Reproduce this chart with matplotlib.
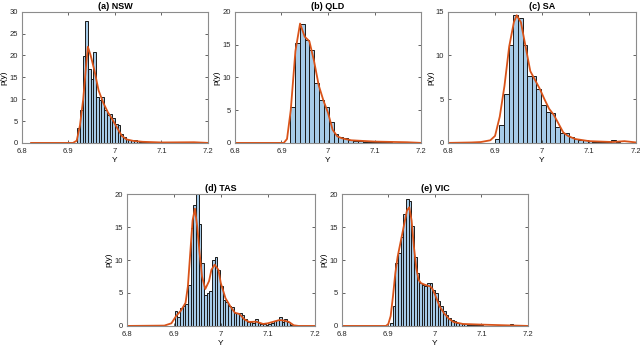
import numpy as np
import matplotlib
matplotlib.use('Agg')
import matplotlib.pyplot as plt

plt.rcParams['font.family'] = ['Liberation Sans', 'DejaVu Sans']

# ---- NSW ----
nsw_start, nsw_width = 6.919, 0.0058
nsw_hist = [3.3, 7.5, 19.8, 28.0, 17.0, 14.7, 20.7, 10.4, 9.8, 10.4, 7.5, 6.3, 6.7,
            5.6, 4.4, 4.0, 2.1, 1.4, 1.0, 0.7, 0.6, 0.7, 0.5, 0.3, 0.2, 0.15, 0.1]
nsw_cx = [6.82, 6.91, 6.918, 6.925, 6.932, 6.938, 6.942, 6.948, 6.956, 6.965, 6.975,
          6.985, 6.995, 7.005, 7.015, 7.025, 7.04, 7.06, 7.1, 7.17, 7.2]
nsw_cy = [0, 0, 0.5, 4.0, 10.0, 17.5, 22.0, 20.0, 16.6, 12.0, 9.2,
          7.0, 5.3, 3.4, 1.6, 0.8, 0.45, 0.25, 0.1, 0.15, 0.0]
nsw_tail = (7.172, 0.3)

# ---- QLD ----
qld_start, qld_width = 6.9185, 0.0104
qld_hist = [5.45, 15.3, 18.1, 15.7, 14.1, 9.2, 6.6, 5.4, 3.2, 1.4, 0.9, 0.7, 0.5,
            0.3, 0.25, 0.2, 0.15, 0.12, 0.1, 0.1, 0.08, 0.05, 0.05, 0.05]
qld_cx = [6.8, 6.905, 6.912, 6.92, 6.93, 6.94, 6.95, 6.96, 6.97, 6.98, 6.99, 7.0,
          7.01, 7.02, 7.03, 7.05, 7.1, 7.17, 7.2]
qld_cy = [0, 0, 0.6, 5.0, 14.0, 18.2, 16.2, 15.5, 12.5, 8.8, 6.5, 4.6,
          2.0, 1.0, 0.7, 0.4, 0.2, 0.1, 0.0]

# ---- SA ----
sa_start, sa_width = 6.899, 0.0099
sa_hist = [0.4, 2.0, 5.6, 11.2, 14.65, 14.3, 11.2, 7.6, 7.6, 6.2, 4.3, 3.5, 3.4,
           1.8, 1.1, 1.1, 0.7, 0.5, 0.35, 0.3, 0.2, 0.15, 0.1, 0.1, 0.15, 0.3, 0.1]
sa_cx = [6.8, 6.85, 6.87, 6.89, 6.9, 6.91, 6.92, 6.93, 6.94, 6.946, 6.955, 6.965,
         6.975, 6.985, 6.995, 7.005, 7.015, 7.025, 7.035, 7.045, 7.055, 7.07, 7.1,
         7.15, 7.175, 7.2]
sa_cy = [0, 0.05, 0.1, 0.3, 0.8, 3.0, 6.5, 11.0, 13.8, 14.6, 13.8, 11.0,
         8.2, 7.2, 6.2, 5.0, 3.9, 3.2, 2.2, 1.2, 0.8, 0.45, 0.2, 0.1, 0.2, 0.05]

# ---- TAS ----
tas_start, tas_width = 6.9016, 0.0057
tas_hist = [2.2, 1.3, 2.7, 3.0, 3.3, 6.2, 14.8, 18.4, 20.0, 15.5, 9.5, 4.7, 5.0,
            5.3, 10.0, 10.5, 8.5, 6.0, 4.0, 3.7, 3.0, 2.8, 2.0, 1.9, 2.0, 1.6, 1.0,
            0.6, 0.6, 0.5, 1.1, 0.5, 0.3, 0.3, 0.2, 0.3, 0.5, 0.7, 0.9, 1.3, 0.6,
            1.0, 0.6, 0.2]
tas_cx = [6.8, 6.88, 6.895, 6.905, 6.915, 6.925, 6.93, 6.935, 6.94, 6.945, 6.95,
          6.955, 6.96, 6.967, 6.975, 6.98, 6.987, 6.995, 7.0, 7.01, 7.02, 7.03,
          7.04, 7.05, 7.06, 7.075, 7.09, 7.1, 7.115, 7.125, 7.135, 7.145, 7.155,
          7.165, 7.2]
tas_cy = [0, 0.05, 0.4, 1.5, 2.3, 3.5, 6.0, 11.0, 16.0, 17.8, 15.0,
          11.0, 7.5, 5.6, 6.8, 8.5, 9.3, 8.5, 6.5, 4.2, 3.0, 2.0,
          1.8, 1.0, 0.6, 0.65, 0.3, 0.4, 0.7, 0.9, 0.8, 0.6, 0.1,
          0.0, 0.0]
tas_tail = (6.811, 0.15)

# ---- VIC ----
vic_start, vic_width = 6.9036, 0.0057
vic_hist = [0.5, 3.0, 9.6, 11.0, 13.5, 17.0, 19.2, 19.0, 15.2, 10.5, 8.0, 6.5, 6.2,
            6.0, 6.5, 6.5, 5.5, 5.0, 3.8, 3.0, 2.2, 1.6, 1.2, 0.9, 0.7, 0.5, 0.4,
            0.3, 0.25, 0.2, 0.2, 0.15, 0.15, 0.1, 0.1]
vic_cx = [6.8, 6.895, 6.9, 6.905, 6.91, 6.915, 6.92, 6.93, 6.94, 6.945, 6.95,
          6.955, 6.96, 6.965, 6.97, 6.98, 6.99, 6.995, 7.0, 7.01, 7.02, 7.03,
          7.04, 7.06, 7.1, 7.15, 7.2]
vic_cy = [0, 0, 0.3, 1.5, 4.5, 8.0, 10.5, 14.0, 17.5, 18.0, 16.0,
          12.0, 8.8, 7.0, 6.5, 6.2, 6.0, 5.6, 4.8, 3.0, 1.9, 1.1,
          0.6, 0.3, 0.2, 0.1, 0.0]
vic_tail = (7.162, 0.3)

panels = [
    ('(a) NSW', nsw_start, nsw_width, nsw_hist, nsw_cx, nsw_cy, nsw_tail, 30,
     [0.034, 0.587, 0.291, 0.379]),
    ('(b) QLD', qld_start, qld_width, qld_hist, qld_cx, qld_cy, None, 20,
     [0.367, 0.587, 0.291, 0.379]),
    ('(c) SA', sa_start, sa_width, sa_hist, sa_cx, sa_cy, None, 15,
     [0.700, 0.587, 0.294, 0.379]),
    ('(d) TAS', tas_start, tas_width, tas_hist, tas_cx, tas_cy, tas_tail, 20,
     [0.198, 0.058, 0.294, 0.381]),
    ('(e) VIC', vic_start, vic_width, vic_hist, vic_cx, vic_cy, vic_tail, 20,
     [0.534, 0.058, 0.291, 0.381]),
]

bar_face = '#a6cbe8'
edge_col = '#1a1a1a'
line_col = '#d95319'
spine_col = '#8c8c8c'

fig = plt.figure(figsize=(6.4, 3.46), dpi=100)
for title, start, width, hist, cx, cy, tail, ymax, pos in panels:
    ax = fig.add_axes(pos)
    edges = start + width * np.arange(len(hist))
    ax.bar(edges, hist, width=width, align='edge', color=bar_face,
           edgecolor=edge_col, linewidth=0.7)
    if tail is not None:
        ax.bar([tail[0]], [tail[1]], width=width, align='edge', color=bar_face,
               edgecolor=edge_col, linewidth=0.7)
    ax.plot(cx, cy, color=line_col, linewidth=1.3)
    ax.set_xlim(6.8, 7.2)
    ax.set_ylim(0, ymax)
    ax.set_xticks([6.8, 6.9, 7.0, 7.1, 7.2])
    ax.set_xticklabels(['6.8', '6.9', '7', '7.1', '7.2'])
    ax.set_yticks(np.arange(0, ymax + 1, 5))
    ax.tick_params(direction='in', top=True, right=True, length=2,
                   width=0.5, labelsize=5.5, colors='#262626')
    ax.tick_params(axis='x', pad=4)
    ax.tick_params(axis='y', pad=3)
    for s in ax.spines.values():
        s.set_color(spine_col)
        s.set_linewidth(0.8)
    ax.set_title(title, fontsize=6.5, fontweight='bold', pad=2)
    ax.set_xlabel('Y', fontsize=6, labelpad=1)
    ax.set_ylabel('p(y)', fontsize=6, labelpad=1)

fig.savefig('out.png', dpi=100)
